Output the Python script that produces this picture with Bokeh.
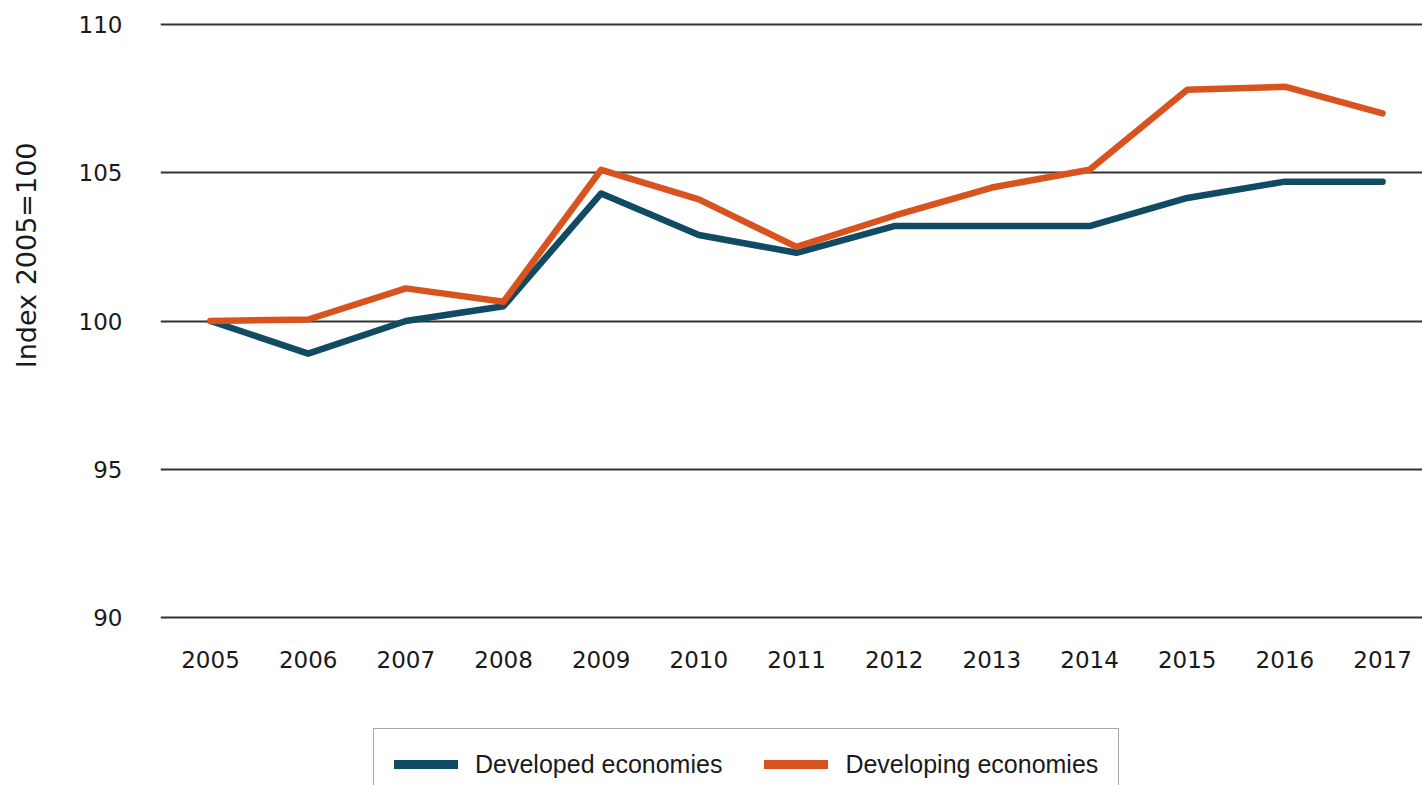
from bokeh.plotting import figure
from bokeh.layouts import column
from bokeh.models import FixedTicker, Legend, LegendItem, Title, Range1d
from bokeh.embed import file_html
from bokeh.resources import INLINE

years = [2005, 2006, 2007, 2008, 2009, 2010, 2011, 2012, 2013, 2014, 2015, 2016, 2017]
developed = [100.0, 98.9, 100.0, 100.5, 104.3, 102.9, 102.3, 103.2, 103.2, 103.2, 104.15, 104.7, 104.7]
developing = [100.0, 100.05, 101.1, 100.65, 105.1, 104.1, 102.5, 103.55, 104.5, 105.1, 107.8, 107.9, 107.0]
y_ticks = [90, 95, 100, 105, 110]
series_names = ["Developed economies", "Developing economies"]
y_title = "Index 2005=100"

BLUE = "#104a63"
ORANGE = "#d9531f"
TICK_FONT = "DejaVu Sans"
LINE_W = 6.5

# ---- main chart ----
p = figure(width=1422, height=722, output_backend="svg", toolbar_location=None,
           x_range=Range1d(2004.488, 2017.409), y_range=Range1d(89.9, 110.1))
p.min_border_left = 160
p.min_border_right = 0
p.min_border_top = 21
p.min_border_bottom = 102
p.outline_line_color = None
p.background_fill_color = "white"
p.border_fill_color = "white"

p.xgrid.grid_line_color = None
p.ygrid.grid_line_color = "#333333"
p.ygrid.grid_line_width = 2
p.ygrid.ticker = FixedTicker(ticks=y_ticks)

p.xaxis.ticker = FixedTicker(ticks=years)
p.yaxis.ticker = FixedTicker(ticks=y_ticks)
for ax in (p.xaxis[0], p.yaxis[0]):
    ax.axis_line_color = None
    ax.major_tick_line_color = None
    ax.minor_tick_line_color = None
    ax.major_tick_out = 0
    ax.major_tick_in = 0
    ax.major_label_text_font = TICK_FONT
    ax.major_label_text_font_size = "23px"
    ax.major_label_text_color = "#1a1a1a"
p.xaxis.major_label_standoff = 30
p.yaxis.major_label_standoff = 38
# blank axis label only widens the y-axis panel so the title sits further left
p.yaxis.axis_label = " "
p.yaxis.axis_label_text_font_size = "10px"
p.yaxis.axis_label_standoff = 20

p.line(years, developed, line_color=BLUE, line_width=LINE_W, line_join="round", line_cap="round")
p.line(years, developing, line_color=ORANGE, line_width=LINE_W, line_join="round", line_cap="round")

ytitle = Title(text=y_title, align="right", offset=121, standoff=0,
               text_font=TICK_FONT, text_font_size="27px", text_font_style="normal",
               text_color="#1a1a1a")
p.add_layout(ytitle, "left")

# ---- legend strip below the chart ----
lg = figure(width=1422, height=63, output_backend="svg", toolbar_location=None,
            x_axis_location=None, y_axis_location=None,
            x_range=Range1d(2004.488, 2017.409), y_range=Range1d(89.9, 110.1))
lg.min_border_left = 0
lg.min_border_right = 0
lg.min_border_top = 0
lg.min_border_bottom = 0
lg.outline_line_color = None
lg.xgrid.grid_line_color = None
lg.ygrid.grid_line_color = None
lr1 = lg.line(years, developed, line_color=BLUE, line_width=9, line_cap="round", visible=False)
lr2 = lg.line(years, developing, line_color=ORANGE, line_width=9, line_cap="round", visible=False)

legend = Legend(items=[LegendItem(label=series_names[0], renderers=[lr1]),
                       LegendItem(label=series_names[1], renderers=[lr2])],
                orientation="horizontal", location=(213, -15))
legend.label_text_font = "Liberation Sans"
legend.label_text_font_size = "25px"
legend.label_text_color = "#1a1a1a"
legend.glyph_width = 64
legend.glyph_height = 30
legend.label_height = 30
legend.label_standoff = 17
legend.spacing = 42
legend.padding = 20
legend.margin = 0
legend.border_line_color = "#555555"
legend.border_line_width = 1.5
legend.background_fill_alpha = 1
legend.inactive_fill_alpha = 0
lg.add_layout(legend, "center")

layout = column(p, lg, spacing=0)
open("out.html", "w").write(file_html(layout, INLINE))
